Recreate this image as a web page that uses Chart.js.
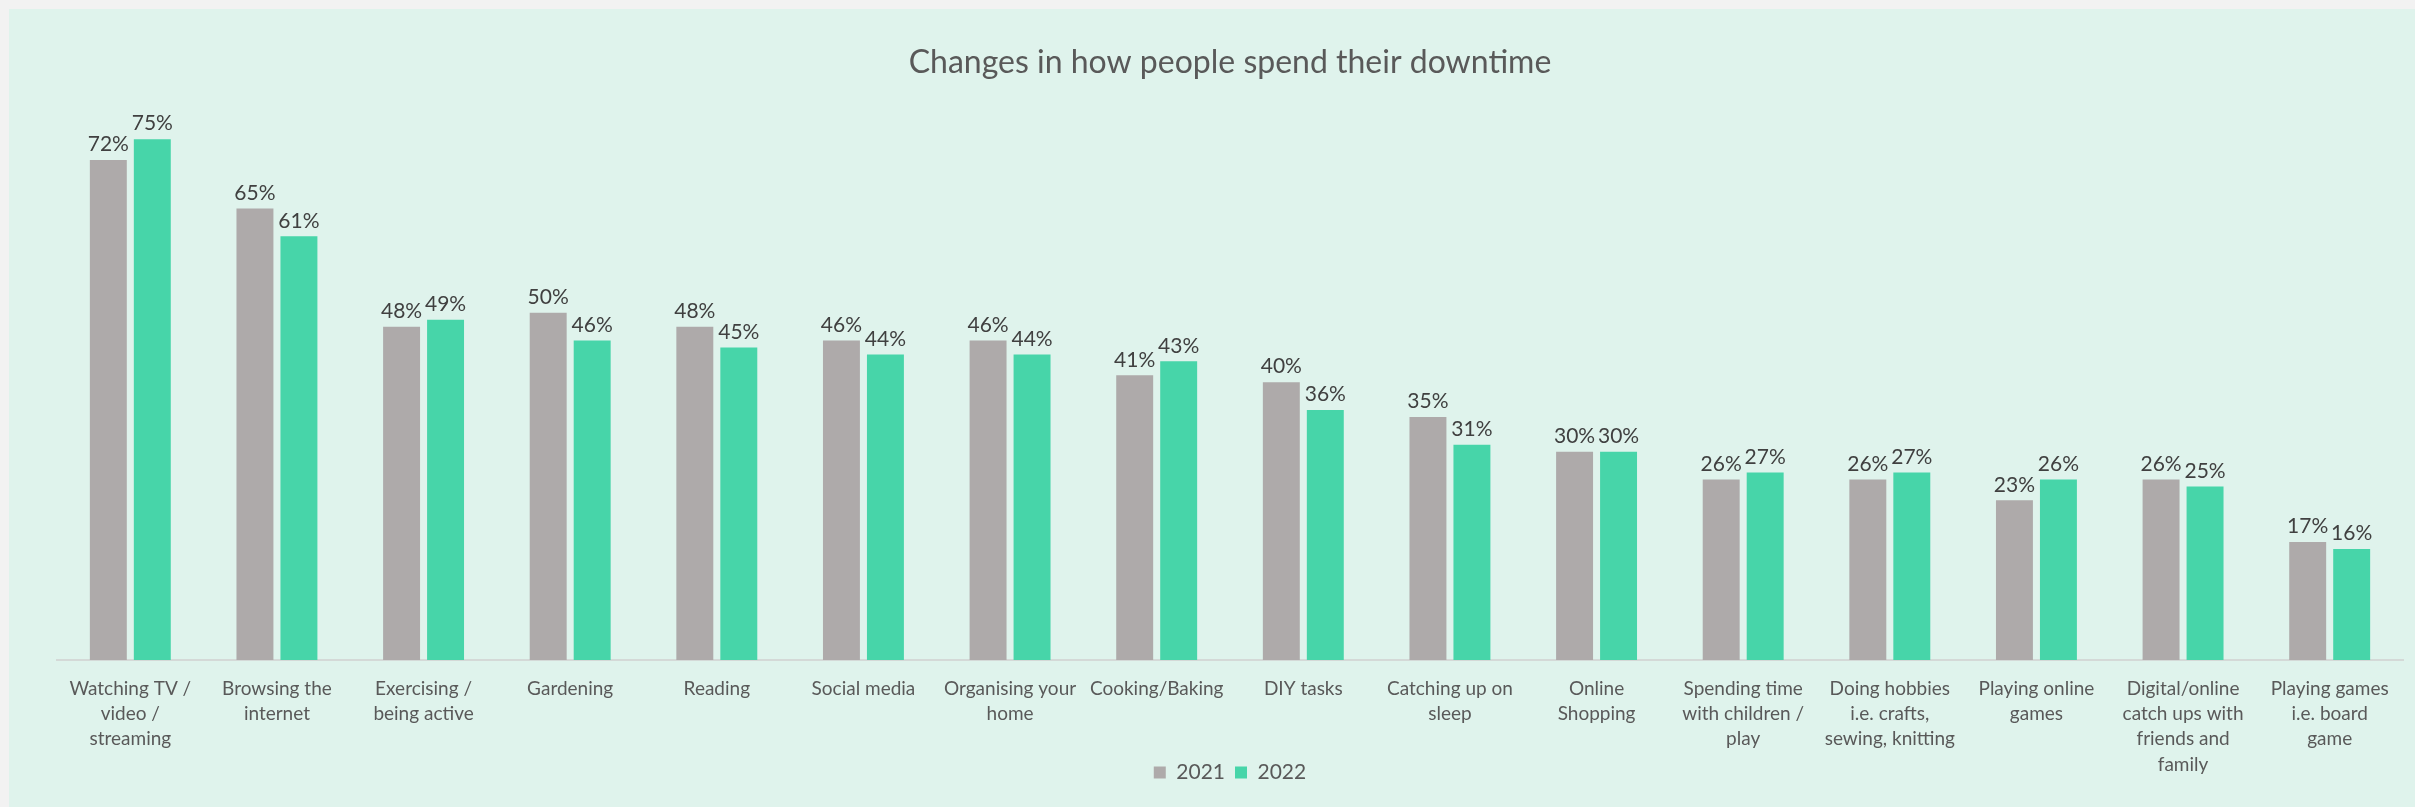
<!DOCTYPE html>
<html>
<head>
<meta charset="utf-8">
<title>Changes in how people spend their downtime</title>
<script src="https://cdn.jsdelivr.net/npm/chart.js@4.4.1/dist/chart.umd.min.js"></script>
<style>
    html, body { margin: 0; padding: 0; background: #f2f2f2; }
    #panel {
        position: absolute;
        left: 9px;
        top: 9px;
        width: 2406px;
        height: 798px;
        background: #dff3ec;
    }
</style>
</head>
<body>
<div id="panel">
    <canvas id="downtimeChart" width="2406" height="798"></canvas>
</div>
<script>
const activities = [
    ['Watching TV /', 'video /', 'streaming'],
    ['Browsing the', 'internet'],
    ['Exercising /', 'being active'],
    'Gardening',
    'Reading',
    'Social media',
    ['Organising your', 'home'],
    'Cooking/Baking',
    'DIY tasks',
    ['Catching up on', 'sleep'],
    ['Online', 'Shopping'],
    ['Spending time', 'with children /', 'play'],
    ['Doing hobbies', 'i.e. crafts,', 'sewing, knitting'],
    ['Playing online', 'games'],
    ['Digital/online', 'catch ups with', 'friends and', 'family'],
    ['Playing games', 'i.e. board', 'game']
];

const values2021 = [72, 65, 48, 50, 48, 46, 46, 41, 40, 35, 30, 26, 26, 23, 26, 17];
const values2022 = [75, 61, 49, 46, 45, 44, 44, 43, 36, 31, 30, 27, 27, 26, 25, 16];

const FONT = "Lato, 'Open Sans', sans-serif";

// draws the % value above every bar
const valueLabels = {
    id: 'valueLabels',
    afterDatasetsDraw(chart) {
        const ctx = chart.ctx;
        ctx.save();
        ctx.font = `21px ${FONT}`;
        ctx.fillStyle = '#404040';
        ctx.textAlign = 'center';
        ctx.textBaseline = 'bottom';
        chart.data.datasets.forEach((ds, i) => {
            chart.getDatasetMeta(i).data.forEach((bar, j) => {
                ctx.fillText(`${ds.data[j]}%`, bar.x, bar.y - 5);
            });
        });
        ctx.restore();
    }
};

// the x labels run down beside the legend, so let them draw past the axis box
const looseLabels = {
    id: 'looseLabels',
    afterLayout(chart) {
        chart.scales.x.bottom = chart.height;
    }
};

function init() {
    const ctx = document.getElementById('downtimeChart').getContext('2d');

    new Chart(ctx, {
        type: 'bar',
        data: {
            labels: activities,
            datasets: [
                {
                    label: '2021',
                    data: values2021,
                    backgroundColor: '#aeaaaa',
                    categoryPercentage: 0.6,
                    barPercentage: 0.84
                },
                {
                    label: '2022',
                    data: values2022,
                    backgroundColor: '#47d5a9',
                    categoryPercentage: 0.6,
                    barPercentage: 0.84
                }
            ]
        },
        options: {
            responsive: false,
            animation: false,
            layout: { padding: { left: 48, right: 12, bottom: 14 } },
            scales: {
                x: {
                    grid: { display: false },
                    border: { display: true, color: '#d4d9d7', width: 2 },
                    ticks: {
                        maxRotation: 0,
                        autoSkip: false,
                        padding: 8,
                        color: '#595959',
                        font: { family: FONT, size: 19, lineHeight: 1.33 }
                    },
                    afterFit: (scale) => { scale.height = 92; }
                },
                y: {
                    display: false,
                    min: 0,
                    max: 80
                }
            },
            plugins: {
                title: {
                    display: true,
                    text: 'Changes in how people spend their downtime',
                    color: '#595959',
                    font: { family: FONT, size: 32, weight: 'normal' },
                    padding: { top: 34, bottom: 23 }
                },
                legend: {
                    position: 'bottom',
                    labels: {
                        color: '#595959',
                        font: { family: FONT, size: 21 },
                        boxWidth: 12,
                        boxHeight: 12,
                        padding: 10
                    }
                },
                tooltip: { enabled: false }
            }
        },
        plugins: [valueLabels, looseLabels]
    });
}

init();
</script>
</body>
</html>
